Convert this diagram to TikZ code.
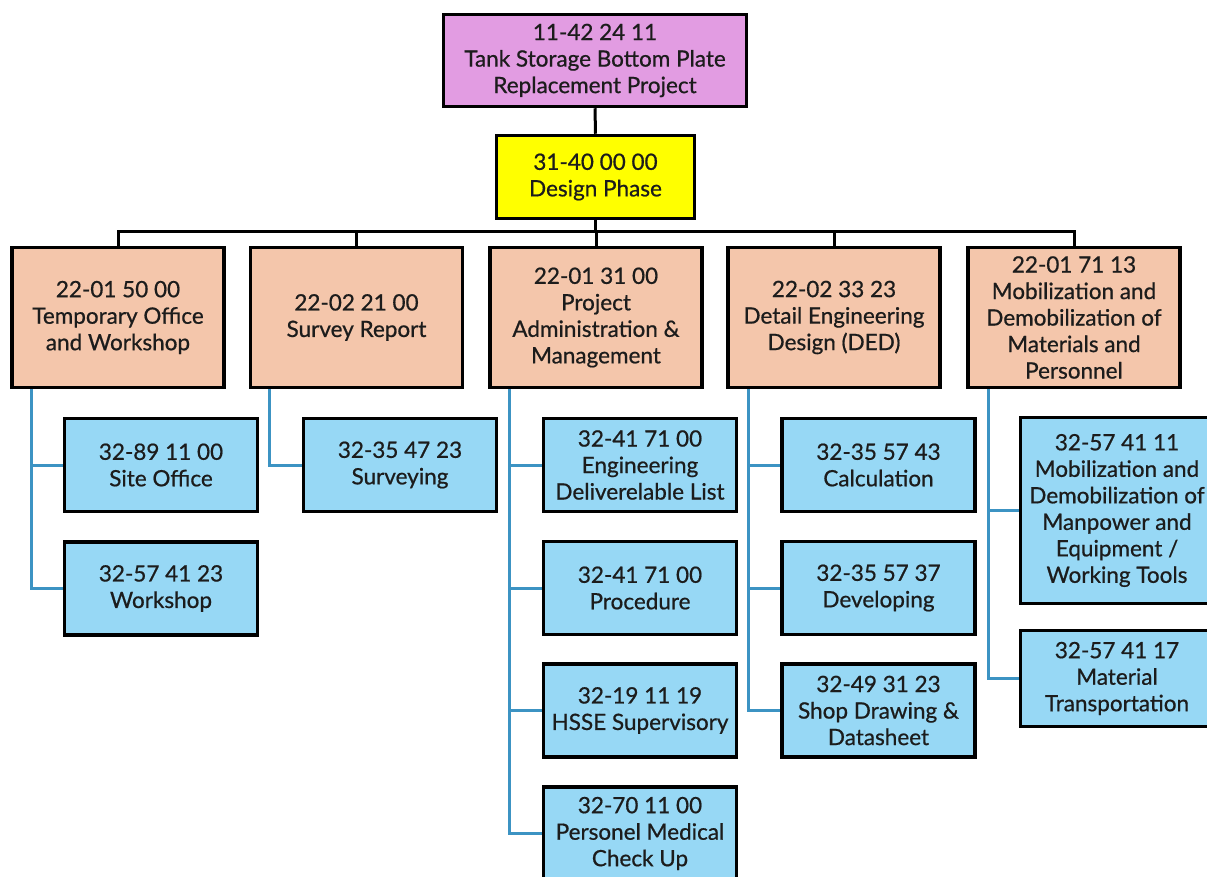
\documentclass[tikz,border=0pt]{standalone}
\usepackage{fontspec}
\setmainfont{Lato}
\newfontfamily\boxfont{Lato}[FakeBold=0.7]
\definecolor{topfill}{HTML}{E29CE2}
\definecolor{phasefill}{HTML}{FFFF00}
\definecolor{wpfill}{HTML}{F4C6AB}
\definecolor{taskfill}{HTML}{97D8F5}
\definecolor{branch}{HTML}{3C93C3}
\definecolor{ink}{HTML}{1C1C1C}
\begin{document}
\begin{tikzpicture}[x=1pt,y=-1pt,
  box/.style={draw=black, line width=3.5pt, align=center, inner sep=1pt,
    text=ink, font=\boxfont\fontsize{22.5}{26.5}\selectfont},
  toplevel/.style={box, fill=topfill},
  phase/.style={box, fill=phasefill},
  package/.style={box, fill=wpfill, minimum width=212pt, minimum height=140pt},
  task/.style={box, fill=taskfill, minimum width=193pt, minimum height=93pt},
  trunk/.style={draw=black, line width=3pt},
  twig/.style={draw=branch, line width=3pt}]
\useasboundingbox (0,0) rectangle (1207,877);
\begin{scope}
\clip (0,0) rectangle (1207,877);

% root and phase
\node[toplevel, minimum width=303pt, minimum height=92pt] (root) at (595,60.5)
  {11-42 24 11\\Tank Storage Bottom Plate\\Replacement Project};
\node[phase, minimum width=198pt, minimum height=83pt] (phase) at (595.5,177)
  {31-40 00 00\\Design Phase};

% work packages
\node[package] (p1) at (118,317.5) {22-01 50 00\\Temporary Office\\and Workshop};
\node[package] (p2) at (356.5,317.5) {22-02 21 00\\Survey Report};
\node[package] (p3) at (596,317.5) {22-01 31 00\\Project\\Administration \&\\Management};
\node[package] (p4) at (834,317.5) {22-02 33 23\\Detail Engineering\\Design (DED)};
\node[package] (p5) at (1074,317.5) {22-01 71 13\\Mobilization and\\Demobilization of\\Materials and\\Personnel};

% tasks
\node[task] (t11) at (161,465) {32-89 11 00\\Site Office};
\node[task] (t12) at (161,588.5) {32-57 41 23\\Workshop};
\node[task] (t21) at (400,465) {32-35 47 23\\Surveying};
\node[task] (t31) at (640,465) {32-41 71 00\\Engineering\\Deliverelable List};
\node[task] (t32) at (640,588) {32-41 71 00\\Procedure};
\node[task] (t33) at (640,710.5) {32-19 11 19\\HSSE Supervisory};
\node[task] (t34) at (640,833.5) {32-70 11 00\\Personel Medical\\Check Up};
\node[task] (t41) at (878.5,465) {32-35 57 43\\Calculation};
\node[task] (t42) at (878.5,588) {32-35 57 37\\Developing};
\node[task] (t43) at (878.5,710.5) {32-49 31 23\\Shop Drawing \&\\Datasheet};
\node[task, minimum height=186pt] (t51) at (1117,510.5)
  {32-57 41 11\\Mobilization and\\Demobilization of\\Manpower and\\Equipment /\\Working Tools};
\node[task, minimum height=96pt] (t52) at (1117,678.5) {32-57 41 17\\Material\\Transportation};

% black tree from the root down to the work packages
\coordinate (bus) at (0,232);
\draw[trunk] (root.south) -- (phase.north);
\draw[trunk] (phase.south) -- (phase.south |- bus);
\draw[trunk] (p1.north) |- (p5.north |- bus) -- (p5.north);
\draw[trunk] (p2.north) -- (p2.north |- bus);
\draw[trunk] (p3.north) -- (p3.north |- bus);
\draw[trunk] (p4.north) -- (p4.north |- bus);

% blue branches from each work package to its tasks
\draw[twig] ([xshift=21pt]p1.south west) |- (t11.west);
\draw[twig] ([xshift=21pt]p1.south west) |- (t12.west);
\draw[twig] ([xshift=21pt]p2.south west) |- (t21.west);
\draw[twig] ([xshift=21pt]p3.south west) |- (t31.west);
\draw[twig] ([xshift=21pt]p3.south west) |- (t32.west);
\draw[twig] ([xshift=21pt]p3.south west) |- (t33.west);
\draw[twig] ([xshift=21pt]p3.south west) |- (t34.west);
\draw[twig] ([xshift=22pt]p4.south west) |- (t41.west);
\draw[twig] ([xshift=22pt]p4.south west) |- (t42.west);
\draw[twig] ([xshift=22pt]p4.south west) |- (t43.west);
\draw[twig] ([xshift=22pt]p5.south west) |- (t51.west);
\draw[twig] ([xshift=22pt]p5.south west) |- (t52.west);
\end{scope}
\end{tikzpicture}
\end{document}
